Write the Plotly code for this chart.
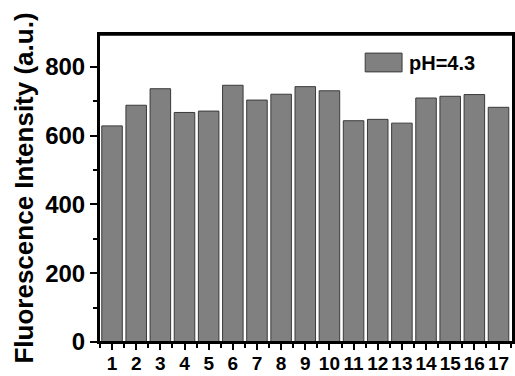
import plotly.graph_objects as go

samples = list(range(1, 18))
tick_labels = [str(i) for i in samples]
intensity = [628, 688, 736, 667, 671, 746, 703, 720, 742, 730, 643, 647, 636, 709, 714, 719, 682]
series_name = "pH=4.3"
y_ticks = [0, 200, 400, 600, 800]

BAR_COLOR = "#808080"
EDGE_COLOR = "#3a3a3a"
FONT = "Arial, Liberation Sans, sans-serif"

fig = go.Figure()
fig.add_trace(go.Bar(
    x=samples, y=intensity, name=series_name, width=0.85,
    marker=dict(color=BAR_COLOR, line=dict(color=EDGE_COLOR, width=1)),
    showlegend=False,
))

fig.update_layout(
    width=515, height=376,
    margin=dict(l=99, r=2, t=34, b=34, autoexpand=False),
    paper_bgcolor="white", plot_bgcolor="white",
    font=dict(family=FONT, color="black"),
    showlegend=False,
)
# legend swatch + label
fig.add_shape(type="rect", xref="paper", yref="paper",
              x0=0.643, x1=0.732, y0=0.877, y1=0.938,
              fillcolor=BAR_COLOR, line=dict(color=EDGE_COLOR, width=1))
fig.add_annotation(xref="paper", yref="paper", x=0.744, y=0.907,
                   xanchor="left", yanchor="middle", showarrow=False,
                   text=series_name, font=dict(size=20, family=FONT, weight="bold"))
# frame
fig.add_shape(type="rect", xref="paper", yref="paper", x0=0, x1=1, y0=0, y1=1,
              line=dict(color="black", width=2), fillcolor="rgba(0,0,0,0)", layer="above")
fig.add_shape(type="line", xref="paper", yref="paper", x0=0, x1=1, y0=0.998, y1=0.998,
              line=dict(color="black", width=2.5), layer="above")

fig.update_xaxes(
    range=[0.46, 17.6], tickmode="array", tickvals=samples, ticktext=tick_labels,
    showline=True, linecolor="black", linewidth=2, mirror=True,
    ticks="outside", ticklen=6, tickwidth=2, tickcolor="black",
    minor=dict(ticks="outside", ticklen=4, tickwidth=2, tickcolor="black", tick0=0.5, dtick=1),
    tickfont=dict(size=19, family=FONT, weight="bold"), tickangle=0, automargin=False,
    ticklabelstandoff=-3,
    showgrid=False, zeroline=False,
)
fig.update_yaxes(
    range=[0, 895], tickvals=y_ticks,
    showline=True, linecolor="black", linewidth=2, mirror=True,
    ticks="outside", ticklen=7, tickwidth=2, tickcolor="black",
    minor=dict(ticks="outside", ticklen=4, tickwidth=2, tickcolor="black", tick0=100, dtick=200),
    tickfont=dict(size=24, family=FONT, weight="bold"), automargin=False,
    title=dict(text="Fluorescence Intensity (a.u.)", font=dict(size=26, family=FONT, weight="bold"), standoff=4),
    showgrid=False, zeroline=False,
)
fig.write_html("out.html")
